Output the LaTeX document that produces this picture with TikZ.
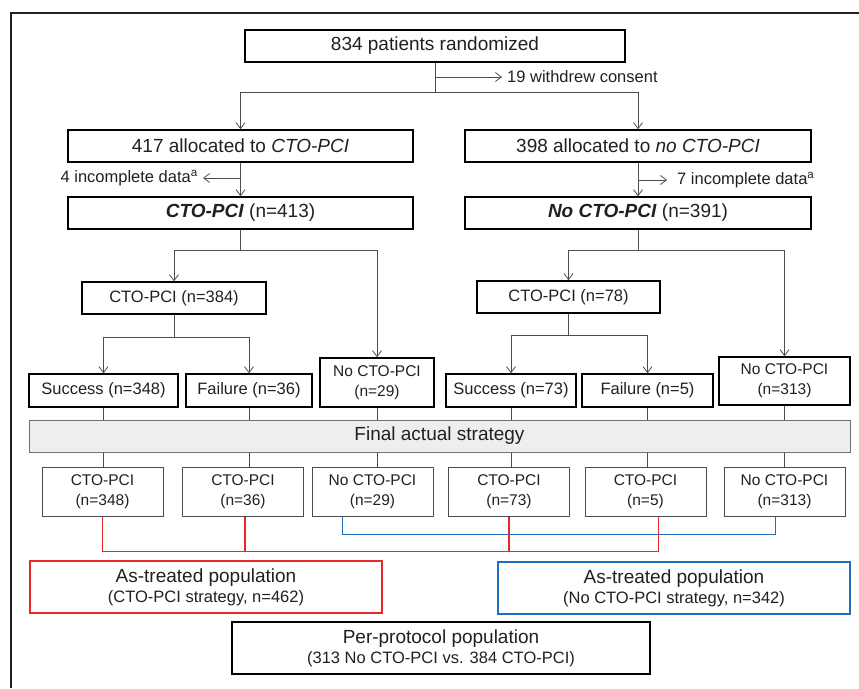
\documentclass[tikz,border=0pt]{standalone}
\usepackage{fontspec}
\setmainfont{Liberation Sans}
\usetikzlibrary{positioning,arrows.meta,calc}
\definecolor{ink}{HTML}{231F20}
\definecolor{wire}{HTML}{4D4D4D}
\definecolor{bnd}{HTML}{EDEEF0}
\definecolor{atr}{HTML}{E8262B}
\definecolor{atb}{HTML}{1F6FC0}
\tikzset{
  box/.style={draw=black, line width=1.5pt, minimum height=32pt, inner sep=1pt, align=center, text=ink},
  sbox/.style={draw=wire, line width=1pt, minimum width=121pt, minimum height=49pt, inner sep=1pt, align=center, text=ink, font=\fontsize{15.5}{20}\selectfont},
  pop/.style={line width=1.4pt, minimum height=52pt, inner sep=1pt, align=center, text=ink, font=\fontsize{19}{21}\selectfont},
  ln/.style={draw=wire, line width=0.8pt},
  arr/.style={ln, -{Straight Barb[length=6pt,width=9pt]}},
  big/.style={font=\fontsize{19}{22}\selectfont},
  med/.style={font=\fontsize{16.5}{20}\selectfont},
  sml/.style={font=\fontsize{15.5}{20}\selectfont}}
\newcommand{\subl}[1]{\\[-1pt]{\fontsize{16.5}{19}\selectfont #1}}

\begin{document}
\begin{tikzpicture}[x=1pt, y=-1pt]
\useasboundingbox (0,0) rectangle (859,688);
\draw[ink, line width=2.5pt] (11,688) -- (11,13) -- (859,13);
% randomization
\node[box, big, minimum width=380pt] (rand) at (435,46) {834 patients randomized};
\node[box, big, minimum width=345pt] (allocA) at (240.5,146) {417 allocated to \textit{CTO-PCI}};
\node[box, big, minimum width=346pt] (allocB) at (638,146) {398 allocated to \textit{no CTO-PCI}};
\node[box, big, minimum width=345pt] (groupA) at (240.5,213) {\textbf{\textit{CTO-PCI}} (n=413)};
\node[box, big, minimum width=346pt] (groupB) at (638,213) {\textbf{\textit{No CTO-PCI}} (n=391)};
\node[med, anchor=west, inner sep=0pt, inner xsep=5pt, text=ink] (wdt) at (502,77) {19 withdrew consent};
\node[med, anchor=east, inner sep=0pt, inner xsep=5pt, text=ink] (incA) at (203,178) {4 incomplete data\textsuperscript{a}};
\node[med, anchor=west, inner sep=0pt, inner xsep=10pt, text=ink] (incB) at (667,180) {7 incomplete data\textsuperscript{a}};
\draw[ln] (rand.south) -- (435,92) coordinate (split);
\draw[arr] (split) -| (allocA);
\draw[arr] (split) -| (allocB);
\draw[arr] (rand.south |- wdt.west) -- (wdt.west);
\draw[arr] (allocA) -- (groupA);
\draw[arr] (allocB) -- (groupB);
\draw[arr] (allocA.south |- incA.east) -- (incA.east);
\draw[arr] (allocB.south |- incB.west) -- (incB.west);
% treatment received
\node[box, med, minimum width=184pt] (pciA) at (174,298) {CTO-PCI (n=384)};
\node[box, med, minimum width=149pt, minimum height=33pt] (succA) at (103.5,390.5) {Success (n=348)};
\node[box, med, minimum width=126pt, minimum height=33pt] (failA) at (249,390.5) {Failure (n=36)};
\node[box, sml, minimum width=114pt, minimum height=49pt] (noA) at (377,382.5) {No CTO-PCI\\(n=29)};
\node[box, med, minimum width=183pt] (pciB) at (568.5,297) {CTO-PCI (n=78)};
\node[box, med, minimum width=130pt, minimum height=33pt] (succB) at (511,390.5) {Success (n=73)};
\node[box, med, minimum width=131pt, minimum height=33pt] (failB) at (647.5,390.5) {Failure (n=5)};
\node[box, sml, minimum width=131pt, minimum height=48pt] (noB) at (784.5,381) {No CTO-PCI\\(n=313)};
\draw[ln] (groupA.south) -- ++(0,21) coordinate (sa);
\draw[arr] (sa) -| (pciA);
\draw[arr] (sa) -| (noA);
\draw[ln] (pciA.south) -- ++(0,23) coordinate (sb);
\draw[arr] (sb) -| (succA);
\draw[arr] (sb) -| (failA);
\draw[ln] (groupB.south) -- ++(0,21) coordinate (sc);
\draw[arr] (sc) -| (pciB);
\draw[arr] (sc) -| (noB);
\draw[ln] (pciB.south) -- ++(0,22) coordinate (sd);
\draw[arr] (sd) -| (succB);
\draw[arr] (sd) -| (failB);
% final strategy
\node[draw=wire!80, fill=bnd, line width=1pt, minimum width=821pt, minimum height=32pt, big, text=ink] (band) at (439.5,436) {Final actual strategy};
\node[sbox] (c1) at (102.5,491.5) {CTO-PCI\\(n=348)};
\node[sbox] (c2) at (243,491.5) {CTO-PCI\\(n=36)};
\node[sbox] (c3) at (372.5,491.5) {No CTO-PCI\\(n=29)};
\node[sbox] (c4) at (509,491.5) {CTO-PCI\\(n=73)};
\node[sbox] (c5) at (645.5,491.5) {CTO-PCI\\(n=5)};
\node[sbox] (c6) at (784.5,491.5) {No CTO-PCI\\(n=313)};
\foreach \u/\l in {succA/c1,failA/c2,noA/c3,succB/c4,failB/c5,noB/c6} {
  \draw[ln] (\u) -- (\u |- band.north);
  \draw[ln] (\u |- band.south) -- (\u |- \l.north);
}
\draw[atb, line width=1.3pt] ([xshift=-30pt]c3.south) -- ++(0,18) -| ([xshift=-9pt]c6.south);
\draw[atr, line width=1.3pt] (c1.south) -- ++(0,35) coordinate (ra) -| ([xshift=13pt]c5.south);
\draw[atr, line width=1.3pt] ([xshift=2pt]c2.south) -- ([xshift=2pt]c2.south |- ra);
\draw[atr, line width=1.3pt] (c4.south) -- (c4.south |- ra);
% populations
\node[pop, draw=atr, minimum width=352pt] (atA) at (206,587) {As-treated population\subl{(CTO-PCI strategy, n=462)}};
\node[pop, draw=atb, minimum width=352pt] (atB) at (674,588) {As-treated population\subl{(No CTO-PCI strategy, n=342)}};
\node[pop, draw=black, minimum width=418pt] (pp) at (441,648) {Per-protocol population\subl{(313 No CTO-PCI vs. 384 CTO-PCI)}};
\end{tikzpicture}
\end{document}
